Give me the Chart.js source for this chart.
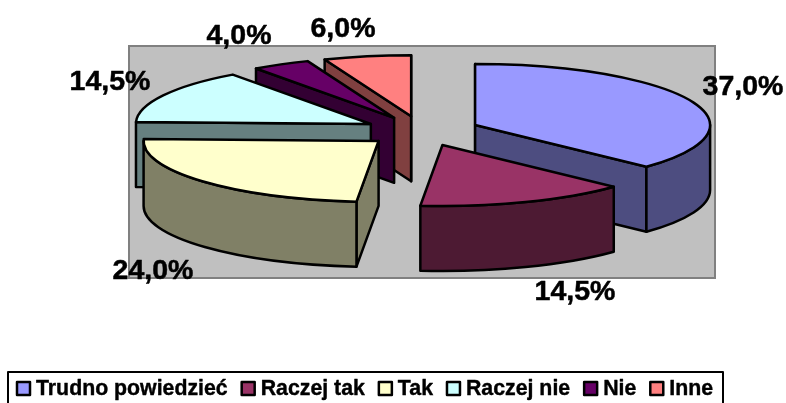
<!DOCTYPE html>
<html>
<head>
<meta charset="utf-8">
<style>html,body{margin:0;padding:0;background:#fff;overflow:hidden}canvas{display:block}</style>
<script src="https://cdn.jsdelivr.net/npm/chart.js@4"></script>
</head>
<body>
<canvas id="c" width="786" height="403"></canvas>
<script>
const categories = ['Trudno powiedzieć', 'Raczej tak', 'Tak', 'Raczej nie', 'Nie', 'Inne'];
const shares = [37.0, 14.5, 24.0, 14.5, 4.0, 6.0];
const topColors = ['#9999FF', '#993366', '#FFFFCC', '#CCFFFF', '#660066', '#FF8080'];
const wallColors = ['#4D4D80', '#4D1A33', '#808066', '#668080', '#330033', '#804040'];
const drawOrder = [0, 5, 4, 3, 2, 1];
const labelCenters = [[743, 87], [575, 292], [153, 271], [110, 82], [239, 36], [343, 29]];

const FONT = '"Liberation Sans", Arial, sans-serif';
const view = { rx: 235, ry: 61, lift: 31, depth: 65 };

const pie3d = {
  id: 'pie3d',
  beforeDraw(chart) {
    const { ctx, chartArea: a } = chart;
    ctx.save();
    ctx.fillStyle = '#C0C0C0';
    ctx.strokeStyle = '#808080';
    ctx.lineWidth = 2;
    ctx.fillRect(a.left, a.top, a.width, a.height);
    ctx.strokeRect(a.left, a.top, a.width, a.height);
    ctx.restore();
  },
  beforeDatasetsDraw(chart) {
    const { ctx } = chart;
    const arcs = chart.getDatasetMeta(0).data;
    const outline = (fill) => {
      ctx.fillStyle = fill;
      ctx.strokeStyle = '#000';
      ctx.lineWidth = 2.5;
      ctx.lineJoin = 'round';
      ctx.closePath();
      ctx.fill();
      ctx.stroke();
    };
    drawOrder.forEach((i) => {
      const arc = arcs[i];
      const { x, y, startAngle: s, endAngle: e, outerRadius: R } = arc.getProps(['x', 'y', 'startAngle', 'endAngle', 'outerRadius'], true);
      const mid = (s + e) / 2;
      const off = arc.options.offset;
      const sx = view.rx / R, sy = view.ry / R;
      const px = (r, ang) => x + (off * Math.cos(mid) + r * Math.cos(ang)) * sx;
      const py = (r, ang, dz) => y - view.lift + dz + (off * Math.sin(mid) + r * Math.sin(ang)) * sy;
      const wall = (ang) => {
        ctx.beginPath();
        ctx.moveTo(px(0, 0), py(0, 0, 0));
        ctx.lineTo(px(R, ang), py(R, ang, 0));
        ctx.lineTo(px(R, ang), py(R, ang, view.depth));
        ctx.lineTo(px(0, 0), py(0, 0, view.depth));
        outline(wallColors[i]);
      };
      const ellipse = (dz, a0, a1, ccw) => {
        ctx.ellipse(x + off * Math.cos(mid) * sx, y - view.lift + dz + off * Math.sin(mid) * sy,
          view.rx, view.ry, 0, a0, a1, ccw);
      };
      if (-Math.cos(s) >= -1e-6) wall(s);
      if (Math.cos(e) >= -1e-6) wall(e);
      const a0 = Math.max(s, 0), a1 = Math.min(e, Math.PI);
      if (a1 > a0) {
        ctx.beginPath();
        ellipse(0, a0, a1, false);
        ellipse(view.depth, a1, a0, true);
        outline(wallColors[i]);
      }
      ctx.beginPath();
      ctx.moveTo(px(0, 0), py(0, 0, 0));
      ellipse(0, s, e, false);
      outline(topColors[i]);
    });
    return false;
  },
  afterDraw(chart) {
    const { ctx } = chart;
    ctx.save();
    ctx.fillStyle = '#000';
    ctx.strokeStyle = '#000';
    ctx.lineWidth = 0.5;
    ctx.font = 'bold 28.5px ' + FONT;
    ctx.textAlign = 'center';
    ctx.textBaseline = 'middle';
    shares.forEach((v, i) => {
      const t = v.toFixed(1).replace('.', ',') + '%';
      ctx.fillText(t, labelCenters[i][0], labelCenters[i][1] + 0.5);
      ctx.strokeText(t, labelCenters[i][0], labelCenters[i][1] + 0.5);
    });
    // legend
    ctx.fillStyle = '#fff';
    ctx.lineWidth = 2;
    ctx.beginPath();
    ctx.rect(8, 372, 715, 40);
    ctx.fill();
    ctx.stroke();
    ctx.font = 'bold 21.3px ' + FONT;
    ctx.textAlign = 'left';
    ctx.textBaseline = 'alphabetic';
    let lx = 16;
    categories.forEach((name, i) => {
      ctx.fillStyle = topColors[i];
      ctx.lineWidth = 2.5;
      ctx.fillRect(lx + 1, 382, 13, 13);
      ctx.strokeRect(lx + 1, 382, 13, 13);
      ctx.fillStyle = '#000';
      ctx.lineWidth = 0.4;
      ctx.fillText(name, lx + 20, 395);
      ctx.strokeText(name, lx + 20, 395);
      lx += 20 + ctx.measureText(name).width + 13;
    });
    ctx.restore();
  }
};

new Chart(document.getElementById('c'), {
  type: 'pie',
  data: {
    labels: categories,
    datasets: [{ data: shares, backgroundColor: topColors, borderColor: '#000', borderWidth: 2, offset: 19.7, radius: 80 }]
  },
  options: {
    responsive: false,
    animation: false,
    layout: { padding: { left: 129, right: 71, top: 46, bottom: 125 } },
    plugins: { legend: { display: false }, tooltip: { enabled: false }, title: { display: false } }
  },
  plugins: [pie3d]
});
</script>
</body>
</html>
